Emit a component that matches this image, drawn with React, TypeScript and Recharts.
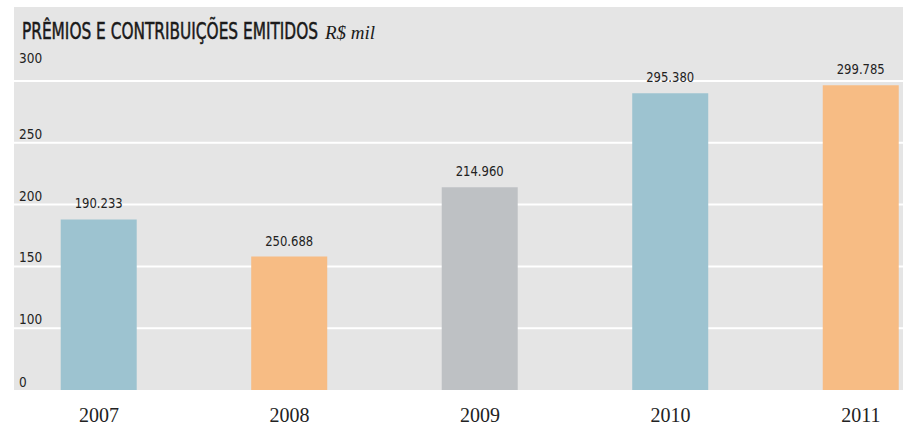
import React from "react";
import { BarChart, Bar, XAxis, YAxis, CartesianGrid, Cell, LabelList } from "recharts";

const years = [2007, 2008, 2009, 2010, 2011];
const barValues = [188, 158, 214, 290, 296.5];
const valueLabels = ["190.233", "250.688", "214.960", "295.380", "299.785"];
const yTicks = [50, 100, 150, 200, 250, 300];
const yTickLabels = ["0", "100", "150", "200", "250", "300"];
const gridValues = [100, 150, 200, 250, 300];
const barColors = ["#9DC3D0", "#F7BC84", "#BEC1C4", "#9DC3D0", "#F7BC84"];

const title = "PRÊMIOS E CONTRIBUIÇÕES EMITIDOS";
const unit = "R$ mil";

const data = years.map((year, i) => ({ year, value: barValues[i], label: valueLabels[i] }));

const SANS = "'Liberation Sans Narrow', 'DejaVu Sans Condensed', 'Roboto', sans-serif";
const SERIF = "'Liberation Serif', 'DejaVu Serif', serif";

const YTick = (props: any) => {
  const { x, y, payload, index } = props;
  const idx = yTicks.indexOf(payload.value);
  const isTop = idx === yTicks.length - 1;
  const isBottom = idx === 0;
  return (
    <text
      x={x}
      y={y + (isTop ? -18 : isBottom ? -3 : -4)}
      textAnchor="start"
      fontFamily={SANS}
      fontSize={13.5}
      fill="#222"
    >
      {yTickLabels[idx >= 0 ? idx : index]}
    </text>
  );
};

const XTick = (props: any) => {
  const { x, y, payload } = props;
  return (
    <text x={x} y={y + 32} textAnchor="middle" fontFamily={SERIF} fontSize={20} fill="#222">
      {payload.value}
    </text>
  );
};

const ValueLabel = (props: any) => {
  const { x, y, width, index } = props;
  return (
    <text
      x={Number(x) + Number(width) / 2}
      y={Number(y) - 11}
      textAnchor="middle"
      fontFamily={SANS}
      fontSize={14.5}
      fill="#222"
      textLength={48}
      lengthAdjust="spacingAndGlyphs"
    >
      {valueLabels[index]}
    </text>
  );
};

export default function App() {
  return (
    <div style={{ position: "relative", width: 903, height: 425, background: "#fff", overflow: "hidden" }}>
      <style>{`body{margin:0}`}</style>
      <div
        style={{ position: "absolute", left: 14, top: 7, width: 889, height: 383, background: "#E5E5E5" }}
      />
      <div style={{ position: "absolute", left: 0, top: 0 }}>
        <BarChart width={903} height={425} data={data} margin={{ top: 81, right: 0, bottom: 0, left: 14 }}>
          <CartesianGrid
            vertical={false}
            stroke="#FFFFFF"
            strokeWidth={2}
            horizontalValues={gridValues}
          />
          <XAxis
            dataKey="year"
            type="number"
            domain={[2006.554, 2011.2205]}
            ticks={years}
            allowDataOverflow
            axisLine={false}
            tickLine={false}
            tickSize={0}
            tickMargin={0}
            height={35}
            tick={<XTick />}
            interval={0}
          />
          <YAxis
            type="number"
            domain={[50, 300]}
            ticks={yTicks}
            allowDataOverflow
            mirror
            axisLine={false}
            tickLine={false}
            tickSize={0}
            tickMargin={5}
            width={40}
            tick={<YTick />}
            interval={0}
          />
          <Bar dataKey="value" barSize={76} isAnimationActive={false}>
            {data.map((d, i) => (
              <Cell key={d.year} fill={barColors[i]} />
            ))}
            <LabelList dataKey="label" content={<ValueLabel />} />
          </Bar>
          <text
            x={22}
            y={39}
            fontFamily={SANS}
            fontSize={23}
            fill="#1a1a1a"
            stroke="#1a1a1a"
            strokeWidth={0.5}
            textLength={296}
            lengthAdjust="spacingAndGlyphs"
          >
            {title}
          </text>
          <text x={325} y={39} fontFamily={SERIF} fontStyle="italic" fontSize={19} fill="#1a1a1a">
            {unit}
          </text>
        </BarChart>
      </div>
    </div>
  );
}
